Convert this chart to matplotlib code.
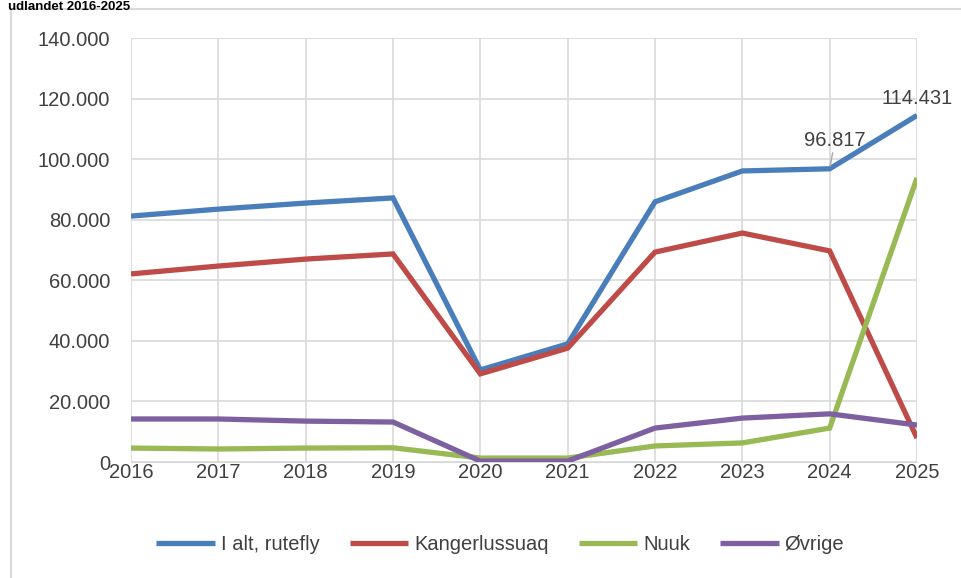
import matplotlib
matplotlib.use("Agg")
import matplotlib.pyplot as plt
from matplotlib.patches import Rectangle
from matplotlib.ticker import FuncFormatter

plt.rcParams['font.family'] = ['Liberation Sans', 'DejaVu Sans']

years = [2016, 2017, 2018, 2019, 2020, 2021, 2022, 2023, 2024, 2025]
i_alt = [81200, 83500, 85500, 87200, 30400, 39000, 85900, 96100, 96817, 114431]
kanger = [62100, 64700, 67000, 68700, 29100, 37600, 69300, 75600, 69700, 7900]
nuuk = [4600, 4300, 4600, 4700, 1300, 1300, 5300, 6300, 11200, 93800]
ovrige = [14200, 14200, 13500, 13200, 300, 300, 11200, 14500, 15900, 12200]

series = [
    ("I alt, rutefly", i_alt, "#4A7EBB"),
    ("Kangerlussuaq", kanger, "#BE4B48"),
    ("Nuuk", nuuk, "#98B954"),
    ("Øvrige", ovrige, "#7D60A0"),
]

fs = 14.5

fig = plt.figure(figsize=(9.62, 5.78), dpi=100)
fig.patch.set_facecolor("white")

# light border of the chart box (runs off the right and bottom edge)
fig.patches.append(Rectangle((11 / 962, -0.05), 1.0, 1 - 9 / 578 + 0.05,
                             transform=fig.transFigure, fill=False,
                             edgecolor="#D9D9D9", linewidth=1.5))

# title strip at the very top
fig.text(0.008, 1 - 0.5 / 578, "udlandet 2016-2025", fontsize=9.5,
         fontweight="bold", ha="left", va="top", color="black")

ax = fig.add_axes([131 / 962, 1 - 462 / 578, (917 - 131) / 962, (462 - 38) / 578])

for name, vals, col in series:
    ax.plot(years, vals, color=col, linewidth=3.8, label=name,
            solid_capstyle="butt", solid_joinstyle="miter", zorder=3)

ax.set_xlim(2016, 2025)
ax.set_ylim(0, 140000)
ax.set_xticks(years)
ax.set_yticks(range(0, 140001, 20000))
ax.yaxis.set_major_formatter(FuncFormatter(lambda v, p: f"{int(v):,}".replace(",", ".")))
ax.grid(True, color="#D9D9D9", linewidth=1.2, zorder=0)
for s in ax.spines.values():
    s.set_visible(False)
ax.spines['bottom'].set_visible(True)
ax.spines['bottom'].set_color("#D9D9D9")
ax.tick_params(length=0, labelsize=fs, colors="#404040")
ax.tick_params(axis='x', pad=1)
ax.tick_params(axis='y', pad=15)

# data labels
ax.annotate("96.817", xy=(2024, 96817), xytext=(2024 + 0.06, 103000),
            ha="center", va="bottom", fontsize=fs, color="#404040",
            arrowprops=dict(arrowstyle="-", color="#A6A6A6", lw=1,
                            shrinkA=0, shrinkB=2))
ax.text(2025, 117000, "114.431", ha="center", va="bottom",
        fontsize=fs, color="#404040", clip_on=False)

leg = fig.legend(loc="center", bbox_to_anchor=(0.52, 1 - 545 / 578), ncol=4,
                 frameon=False, fontsize=fs, handlelength=2.9,
                 columnspacing=1.5, handletextpad=0.3)
for t in leg.get_texts():
    t.set_color("#404040")

fig.savefig("out.png", dpi=100)
